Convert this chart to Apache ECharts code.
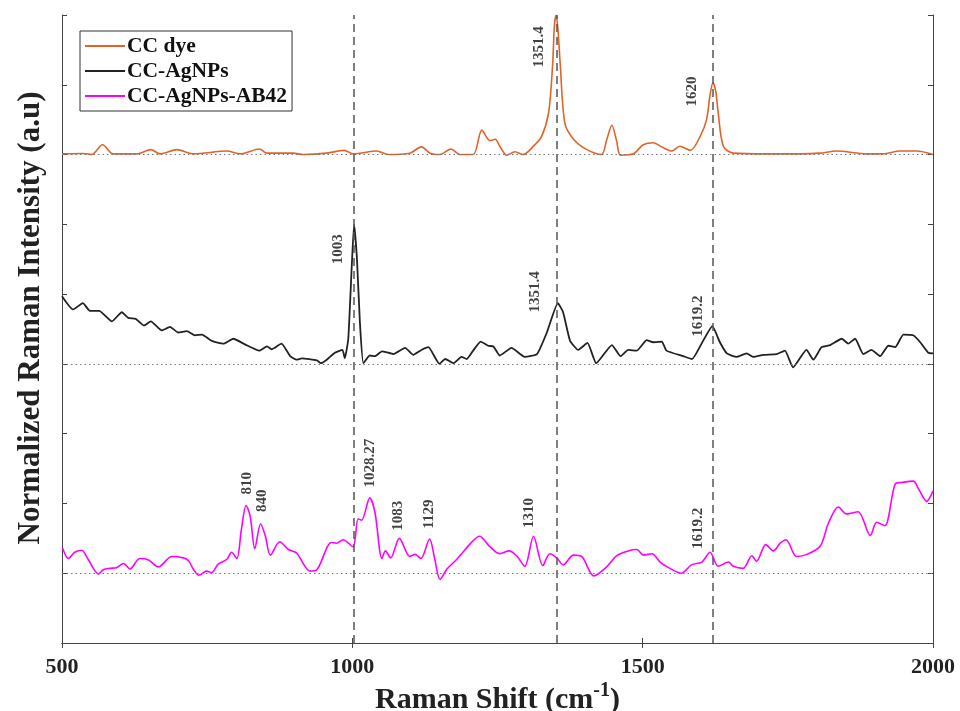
<!DOCTYPE html>
<html>
<head>
<meta charset="utf-8">
<script src="https://cdn.jsdelivr.net/npm/echarts@6/dist/echarts.min.js"></script>
<style>
  html, body { margin: 0; padding: 0; background: #fff; }
  #chart { width: 960px; height: 711px; }
</style>
</head>
<body>
<div id="chart"></div>
<script>
// --- DATA (Raman shift in cm-1, normalized intensity with stacking offsets) ---
const dyeX = [500,537,551,570,588,629,653,669,698,726,784,807,840,853,898,916,956,986,1002,1042,1062,1099,1119,1134,1151,1170,1185,1208,1223,1237,1246,1254,1266,1280,1294,1312,1326,1338,1345,1348,1351,1354,1358,1366,1381,1404,1429,1438,1447,1455,1462,1484,1501,1518,1535,1550,1564,1582,1599,1610,1616,1621,1626,1630,1639,1656,1714,1771,1805,1834,1886,1914,1943,1972,2000];
const dyeY = [7.01,7.015,7.0,7.14,7.01,7.01,7.07,7.01,7.07,7.01,7.05,7.01,7.08,7.02,7.02,7.0,7.02,7.06,7.01,7.05,7.0,7.02,7.11,7.02,7.0,7.08,7.0,7.0,7.35,7.2,7.22,7.12,6.99,7.04,7.0,7.12,7.26,7.6,8.3,8.85,9.0,8.8,8.3,7.45,7.22,7.07,7.0,7.21,7.42,7.2,6.99,7.01,7.14,7.17,7.1,7.05,7.12,7.06,7.26,7.5,7.85,8.03,7.9,7.6,7.12,7.02,7.01,7.01,7.02,7.05,7.01,7.01,7.05,7.05,7.0];

const agX = [500,519,536,548,564,586,603,614,627,641,653,672,686,700,715,729,741,758,778,795,815,840,853,861,878,893,904,913,939,946,956,970,983,987,993,999,1003,1008,1013,1019,1030,1039,1051,1058,1071,1091,1105,1119,1131,1150,1160,1174,1188,1197,1208,1221,1234,1243,1254,1274,1297,1318,1335,1354,1363,1375,1389,1405,1420,1447,1462,1475,1490,1507,1518,1533,1541,1570,1585,1604,1620,1633,1645,1662,1679,1691,1708,1731,1745,1759,1782,1794,1808,1823,1843,1854,1866,1880,1894,1909,1923,1935,1949,1966,1978,1992,2000];
const agY = [4.97,4.78,4.87,4.76,4.76,4.61,4.74,4.66,4.645,4.55,4.61,4.48,4.53,4.45,4.47,4.41,4.42,4.33,4.29,4.36,4.28,4.19,4.25,4.21,4.29,4.11,4.06,4.08,4.05,4.01,4.06,4.16,4.2,4.08,4.36,5.4,6.0,5.5,4.6,4.01,4.12,4.11,4.18,4.17,4.14,4.23,4.13,4.2,4.24,4.0,4.07,4.01,4.1,4.07,4.19,4.32,4.26,4.25,4.12,4.23,4.1,4.14,4.45,4.87,4.74,4.33,4.2,4.3,4.01,4.27,4.11,4.2,4.19,4.34,4.31,4.32,4.19,4.11,4.07,4.33,4.54,4.31,4.15,4.1,4.15,4.1,4.13,4.14,4.19,3.95,4.2,4.06,4.24,4.27,4.36,4.29,4.36,4.14,4.2,4.11,4.26,4.24,4.42,4.41,4.31,4.16,4.15];

const abX = [501,511,522,534,545,563,571,583,594,606,617,634,649,666,689,709,718,726,736,749,758,769,784,792,801,809,817,824,832,842,850,859,875,890,904,927,939,964,973,984,1001,1010,1016,1030,1039,1051,1057,1066,1081,1099,1108,1118,1133,1142,1151,1163,1180,1206,1219,1237,1254,1270,1283,1297,1312,1328,1340,1352,1363,1381,1395,1416,1438,1455,1475,1490,1501,1516,1530,1547,1567,1584,1602,1616,1630,1648,1656,1673,1688,1696,1712,1725,1737,1747,1765,1783,1806,1820,1837,1851,1871,1892,1903,1917,1935,1946,1966,1975,1989,2000];
const abY = [1.36,1.21,1.3,1.33,1.2,0.99,1.05,1.07,1.08,1.14,1.06,1.21,1.19,1.09,1.24,1.22,1.18,1.06,0.97,1.03,1.01,1.13,1.2,1.3,1.21,1.63,1.97,1.82,1.35,1.71,1.54,1.26,1.45,1.34,1.29,1.03,1.05,1.44,1.43,1.48,1.38,1.78,1.76,2.08,1.87,1.21,1.32,1.22,1.5,1.24,1.27,1.21,1.49,1.2,0.91,1.06,1.2,1.45,1.53,1.38,1.28,1.32,1.25,1.1,1.53,1.11,1.28,1.22,1.12,1.26,1.24,0.96,1.09,1.25,1.32,1.34,1.26,1.28,1.16,1.07,1.0,1.12,1.16,1.3,1.1,1.16,1.1,1.07,1.25,1.17,1.41,1.32,1.43,1.48,1.24,1.27,1.39,1.72,1.95,1.85,1.88,1.54,1.73,1.68,2.28,2.3,2.32,2.21,2.03,2.18];

const seriesNames = ['CC dye', 'CC-AgNPs', 'CC-AgNPs-AB42'];
const seriesColors = ['#E0632A', '#222222', '#FF00FF'];
const baselines = [7, 4, 1];
const peakLines = [1003, 1351.4, 1620];

const peakText = ['1351.4','1620','1003','1351.4','1619.2','810','840','1028.27','1083','1129','1310','1619.2'];
const peakTextX = [1323,1586,976,1316,1596,819,845,1032,1079,1133,1305,1596];
const peakTextY = [8.24,7.68,5.42,4.73,4.38,2.12,1.87,2.22,1.60,1.63,1.64,1.34];

const xTicks = [500, 1000, 1500, 2000];

// --- CHART ---
const serif = '"Liberation Serif", "Times New Roman", serif';
const chart = echarts.init(document.getElementById('chart'));
const zip = (xs, ys) => xs.map((x, i) => [x, ys[i]]);
const frame = { show: true, lineStyle: { color: '#444', width: 1 } };
const ticks = { show: true, inside: true, length: 5, lineStyle: { color: '#444' } };

const option = {
  animation: false,
  grid: { left: 62, right: 27, top: 15, bottom: 68, containLabel: false, outerBoundsMode: 'none' },
  legend: {
    orient: 'vertical', left: 80, top: 31,
    data: seriesNames,
    itemWidth: 40, itemHeight: 14, itemGap: 3,
    padding: [4, 5, 4, 4],
    borderColor: '#333', borderWidth: 1,
    itemStyle: { opacity: 0 },
    textStyle: { fontFamily: serif, fontWeight: 'bold', fontSize: 21.5, color: '#111', padding: [0, 0, 0, -3] }
  },
  xAxis: [{
    type: 'value', min: 500, max: 2000, interval: 500,
    axisLine: frame, axisTick: ticks, splitLine: { show: false },
    axisLabel: { fontFamily: serif, fontWeight: 'bold', fontSize: 22, color: '#222', margin: 13,
      formatter: v => xTicks.includes(v) ? String(v) : '' },
    name: '{a|Raman Shift (cm}{s|-1}{a|)}', nameLocation: 'middle', nameGap: 38, nameMoveOverlap: false,
    nameTextStyle: { rich: {
      a: { fontFamily: serif, fontWeight: 'bold', fontSize: 30, color: '#222', verticalAlign: 'bottom' },
      s: { fontFamily: serif, fontWeight: 'bold', fontSize: 20, color: '#222', verticalAlign: 'top', padding: [0, 0, 14, 0] }
    } }
  }, {
    type: 'value', min: 500, max: 2000, interval: 500, position: 'top',
    axisLine: frame, axisTick: ticks, axisLabel: { show: false }, splitLine: { show: false }
  }],
  yAxis: [{
    type: 'value', min: 0, max: 9, interval: 1,
    axisLine: frame, axisTick: ticks, axisLabel: { show: false }, splitLine: { show: false },
    name: 'Normalized Raman Intensity (a.u)', nameLocation: 'middle', nameGap: 16,
    nameTextStyle: { fontFamily: serif, fontWeight: 'bold', fontSize: 31, color: '#222', padding: [0, 0, 0, 22] }
  }, {
    type: 'value', min: 0, max: 9, interval: 1, position: 'right',
    axisLine: frame, axisTick: ticks, axisLabel: { show: false }, splitLine: { show: false }
  }],
  series: [
    ...[zip(dyeX, dyeY), zip(agX, agY), zip(abX, abY)].map((d, i) => ({
      name: seriesNames[i], type: 'line', data: d,
      symbol: 'none', smooth: i === 1 ? 0.15 : 0.3,
      lineStyle: { color: seriesColors[i], width: i === 1 ? 1.8 : 1.6 },
      itemStyle: { color: seriesColors[i] },
      z: 3
    })),
    {
      name: 'guides', type: 'line', data: [], z: 4, silent: true,
      markLine: {
        symbol: ['none', 'none'], silent: true, label: { show: false }, animation: false,
        data: [
          ...peakLines.map(x => ({ xAxis: x, lineStyle: { color: '#555', width: 1.5, type: [8, 5] } })),
          ...baselines.map(y => ({ yAxis: y, lineStyle: { color: '#777', width: 1.2, type: [1.5, 3] } }))
        ]
      }
    },
    {
      name: 'peaks', type: 'scatter', symbolSize: 1, silent: true, z: 5,
      itemStyle: { color: 'rgba(0,0,0,0)' },
      data: peakText.map((t, i) => [peakTextX[i], peakTextY[i], t]),
      label: {
        show: true, rotate: 90, position: [0, 0], align: 'left', verticalAlign: 'middle',
        formatter: p => p.data[2],
        fontFamily: serif, fontWeight: 'bold', fontSize: 15, color: '#111'
      }
    }
  ]
};
chart.setOption(option);
</script>
</body>
</html>
